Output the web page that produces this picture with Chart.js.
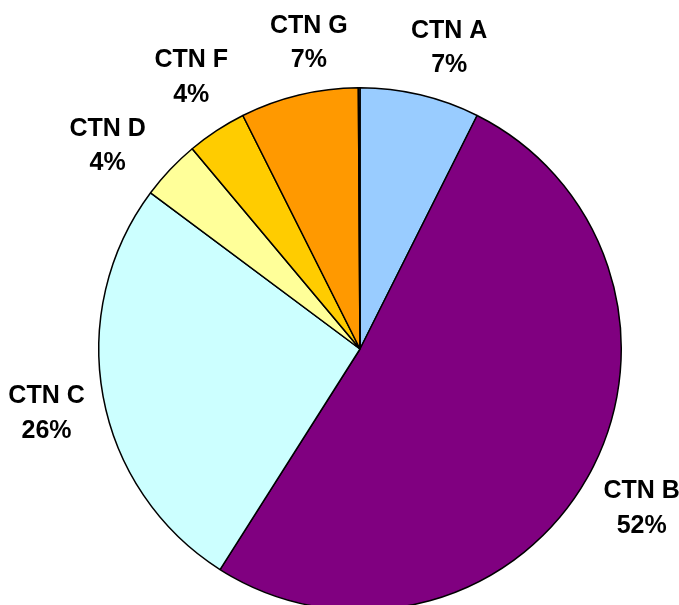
<!DOCTYPE html>
<html>
<head>
<meta charset="utf-8">
<script src="https://cdn.jsdelivr.net/npm/chart.js@4/dist/chart.umd.min.js"></script>
<style>
    html, body { margin: 0; padding: 0; background: #fff; overflow: hidden; }
    #wrap { width: 679px; height: 605px; overflow: hidden; }
</style>
</head>
<body>
<div id="wrap">
    <canvas id="pieChart" width="679" height="612"></canvas>
</div>
<script>
// chart data, clockwise from 12 o'clock
const categories = ['CTN A', 'CTN B', 'CTN C', 'CTN D', 'CTN F', 'CTN G', 'Other'];
const shares = [7.4, 51.6, 26.2, 3.7, 3.7, 7.3, 0.1];
const sliceColors = ['#99CCFF', '#800080', '#CCFFFF', '#FFFF99', '#FFCC00', '#FF9900', '#666699'];
// small angle tweaks (degrees) so labels sit where Excel put them
const labelNudge = [3.2, 0, -1.2, -4.6, 1.4, 4, 0];

// draws "name / percent" outside each slice, like the Excel labels
const outsideLabels = {
    id: 'outsideLabels',
    afterDatasetsDraw(chart) {
        const ctx = chart.ctx;
        const meta = chart.getDatasetMeta(0);
        const values = chart.data.datasets[0].data;
        const total = values.reduce((a, b) => a + b, 0);
        const lineGap = 34.5;
        ctx.save();
        ctx.font = 'bold 25px "Liberation Sans", Arial, sans-serif';
        ctx.fillStyle = '#000';
        ctx.textAlign = 'center';
        ctx.textBaseline = 'middle';
        meta.data.forEach((arc, i) => {
            if (values[i] < 1) return; // tiny slice has no label
            const p = arc.getProps(['x', 'y', 'startAngle', 'endAngle', 'outerRadius'], true);
            const mid = (p.startAngle + p.endAngle) / 2 + labelNudge[i] * Math.PI / 180;
            const name = chart.data.labels[i];
            const pct = Math.round(values[i] / total * 100) + '%';
            const halfW = Math.max(ctx.measureText(name).width, ctx.measureText(pct).width) / 2;
            const halfH = (lineGap + 19) / 2;
            const cx = Math.cos(mid), cy = Math.sin(mid);
            // keep the label box a small gap away from the rim
            const dist = p.outerRadius + 16 + halfW * Math.abs(cx) + halfH * Math.abs(cy);
            const x = p.x + cx * dist;
            const y = p.y + cy * dist;
            ctx.fillText(name, x, y - lineGap / 2);
            ctx.fillText(pct, x, y + lineGap / 2);
        });
        ctx.restore();
    }
};

const ctx = document.getElementById('pieChart').getContext('2d');
new Chart(ctx, {
    type: 'pie',
    data: {
        labels: categories,
        datasets: [{
            data: shares,
            backgroundColor: sliceColors,
            borderColor: '#000',
            borderWidth: 1.5,
            hoverOffset: 0
        }]
    },
    options: {
        responsive: false,
        animation: false,
        layout: { padding: { left: 98, right: 57, top: 86, bottom: 0 } },
        plugins: {
            legend: { display: false },
            tooltip: { enabled: false }
        }
    },
    plugins: [outsideLabels]
});
</script>
</body>
</html>
